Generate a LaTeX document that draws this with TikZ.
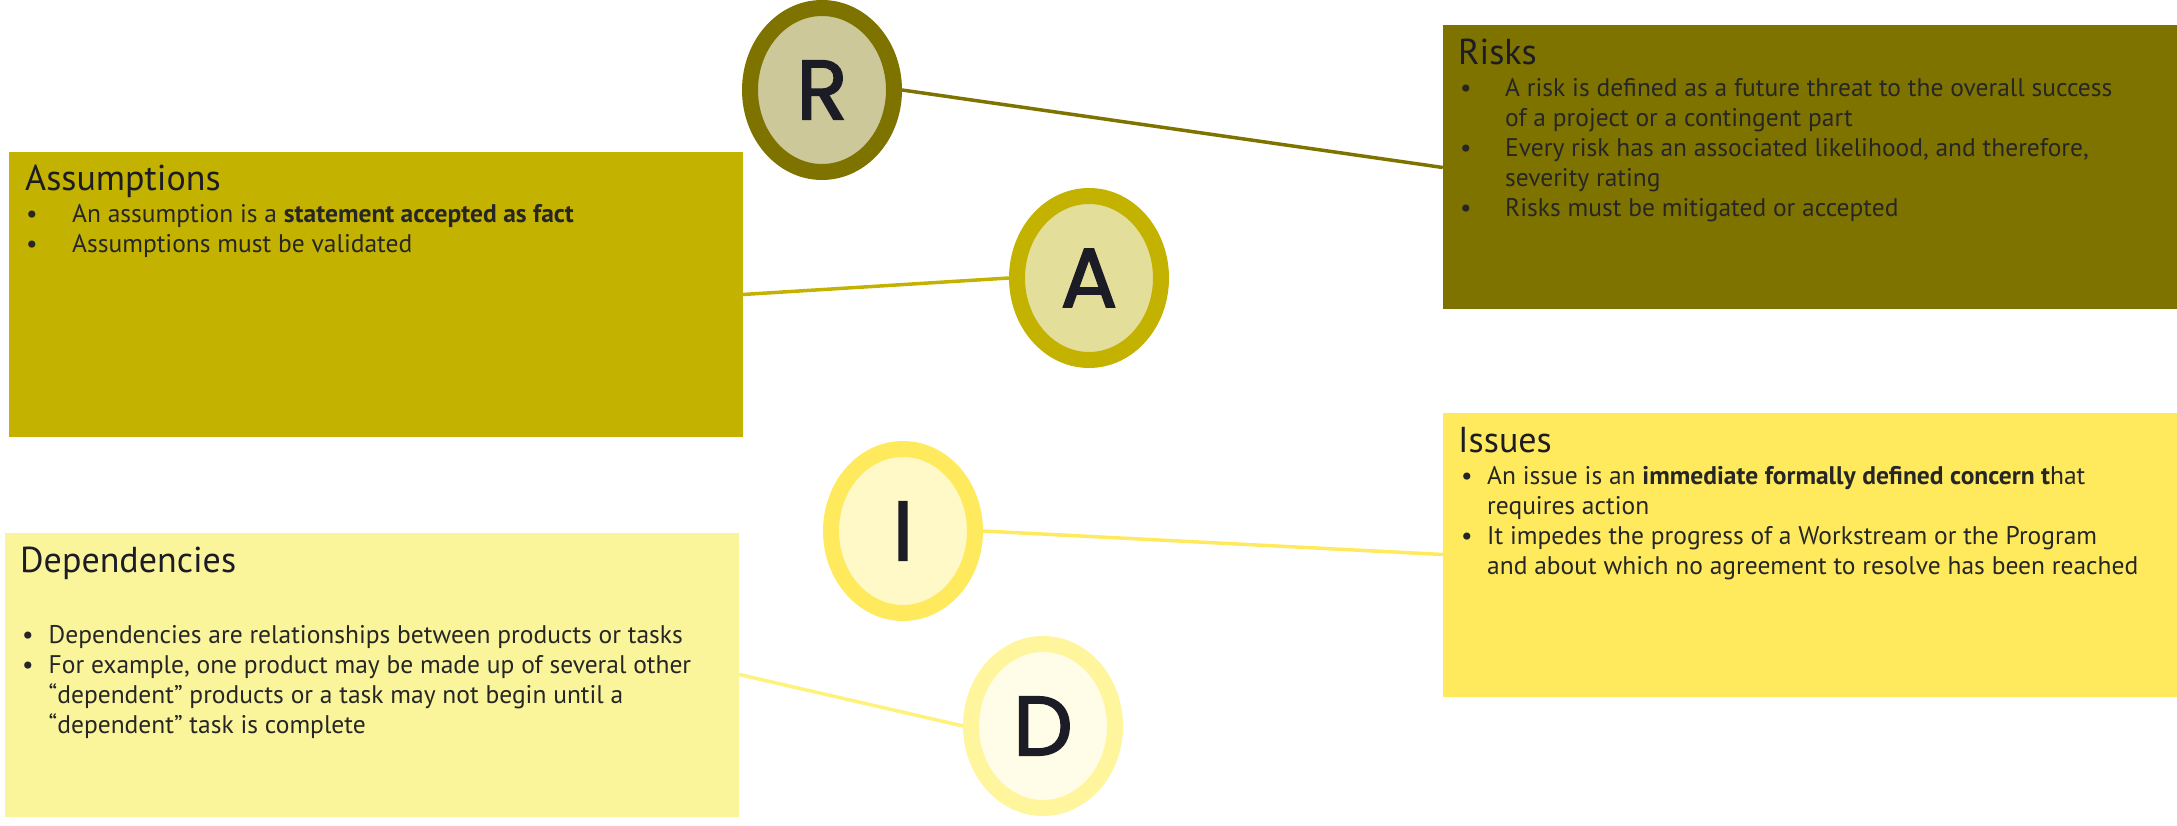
\documentclass[tikz,border=0pt]{standalone}
\usepackage{fontspec}
\setmainfont{PT Sans}
\newfontfamily\letterfont[FakeBold=2]{Poppins}
\usetikzlibrary{shapes.geometric}
\definecolor{rdark}{HTML}{7F7300}
\definecolor{rfill}{HTML}{CCC89A}
\definecolor{adark}{HTML}{C4B200}
\definecolor{afill}{HTML}{E3DE99}
\definecolor{idark}{HTML}{FFEA5E}
\definecolor{ifill}{HTML}{FFF9C8}
\definecolor{dbox}{HTML}{FAF49A}
\definecolor{ddark}{HTML}{FFF59C}
\definecolor{dline}{HTML}{FFF27A}
\definecolor{dfill}{HTML}{FFFDE8}
\definecolor{inkc}{HTML}{1C1C26}
\definecolor{textc}{HTML}{262626}
\newcommand{\bl}{\textbullet}
\tikzset{
  card/.style={rectangle, inner sep=0pt, minimum width=734pt, minimum height=284pt},
  letterdisc/.style={ellipse, line width=16pt, minimum width=144pt, minimum height=164pt,
     inner sep=0pt, text=inkc, font=\letterfont\fontsize{84}{84}\selectfont},
  cardtitle/.style={anchor=base west, inner sep=0pt, text=inkc, font=\fontsize{36}{40}\selectfont},
  cardbody/.style={anchor=base west, inner sep=0pt, text=textc, font=\fontsize{25.5}{30}\selectfont},
  conn/.style={line width=3.5pt}
}
\begin{document}
\begin{tikzpicture}[x=1pt,y=-1pt]
\useasboundingbox (0,0) rectangle (2177,826);
% boxes
\node[card, fill=rdark] (riskbox) at (1810,167.5) {};
\node[card, fill=adark] (assumbox) at (375.5,294.5) {};
\node[card, fill=idark] (issuebox) at (1810,554.5) {};
\node[card, fill=dbox] (depbox) at (372,674.5) {};
% letter discs
\node[letterdisc, draw=rdark, fill=rfill] (R) at (822,90) {R};
\node[letterdisc, draw=adark, fill=afill] (A) at (1089,278) {A};
\node[letterdisc, draw=idark, fill=ifill] (I) at (903,531) {I};
\node[letterdisc, draw=ddark, fill=dfill] (D) at (1043,726) {D};
% connectors
\draw[conn, rdark] (R.east) -- (riskbox.west);
\draw[conn, adark] (assumbox.east) -- (A.west);
\draw[conn, idark] (I.east) -- (issuebox.west);
\draw[conn, dline] (depbox.east) -- (D.west);
% Risks text
\node[cardtitle] (risktitle) at (1458,65) {Risks};
\node[cardbody] (risktext) at (1460,97) {\begin{tabular}[t]{@{}p{45pt}@{}l@{}}
\bl & A risk is defined as a future threat to the overall success\\
 & of a project or a contingent part\\
\bl & Every risk has an associated likelihood, and therefore,\\
 & severity rating\\
\bl & Risks must be mitigated or accepted
\end{tabular}};
% Assumptions text
\node[cardtitle] (assumtitle) at (25,191) {Assumptions};
\node[cardbody] (assumtext) at (26,223) {\begin{tabular}[t]{@{}p{46pt}@{}l@{}}
\bl & An assumption is a \textbf{statement accepted as fact}\\
\bl & Assumptions must be validated
\end{tabular}};
% Issues text
\node[cardtitle] (issuetitle) at (1458,452) {Issues};
\node[cardbody] (issuetext) at (1461,484) {\begin{tabular}[t]{@{}p{26pt}@{}l@{}}
\bl & An issue is an \textbf{immediate formally defined concern t}hat\\
 & requires action\\
\bl & It impedes the progress of a Workstream or the Program\\
 & and about which no agreement to resolve has been reached
\end{tabular}};
% Dependencies text
\node[cardtitle] (deptitle) at (20,572) {Dependencies};
\node[cardbody] (deptext) at (22,643) {\begin{tabular}[t]{@{}p{26.5pt}@{}l@{}}
\bl & Dependencies are relationships between products or tasks\\
\bl & For example, one product may be made up of several other\\
 & “dependent” products or a task may not begin until a\\
 & “dependent” task is complete
\end{tabular}};
\end{tikzpicture}
\end{document}
